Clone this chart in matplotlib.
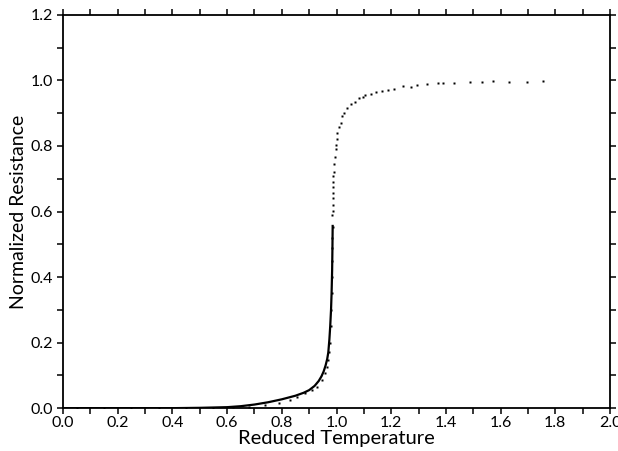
import matplotlib
matplotlib.use("Agg")
import matplotlib.pyplot as plt
from matplotlib.ticker import MultipleLocator, FormatStrFormatter

plt.rcParams['font.family'] = ['Lato', 'DejaVu Sans']

# measured data (dots)
t_meas = [0.05, 0.15, 0.25, 0.35, 0.45, 0.55, 0.62, 0.68, 0.74, 0.79,
          0.830, 0.854, 0.885, 0.909, 0.928, 0.946, 0.958, 0.966, 0.970,
          0.973, 0.976, 0.979, 0.981, 0.982, 0.983, 0.984, 0.985,
          0.985, 0.986, 0.985, 0.986, 0.987, 0.987, 0.988, 0.988, 0.989,
          0.989, 0.991, 0.992, 0.993, 0.997, 0.997, 1.001, 1.003, 1.010,
          1.015, 1.019, 1.027, 1.038, 1.052, 1.068, 1.083, 1.098, 1.104,
          1.125, 1.144, 1.165, 1.187, 1.210, 1.244, 1.272, 1.293, 1.330,
          1.372, 1.388, 1.430, 1.488, 1.531, 1.573, 1.631, 1.695, 1.754]
r_meas = [0.0, 0.0, 0.0, 0.0, 0.0, 0.001, 0.002, 0.005, 0.010, 0.017,
          0.026, 0.033, 0.045, 0.055, 0.065, 0.085, 0.106, 0.126, 0.147,
          0.17, 0.20, 0.25, 0.30, 0.35, 0.40, 0.45, 0.49,
          0.518, 0.554, 0.589, 0.602, 0.620, 0.640, 0.656, 0.674, 0.689,
          0.707, 0.722, 0.745, 0.766, 0.790, 0.802, 0.821, 0.841, 0.857,
          0.871, 0.890, 0.902, 0.917, 0.927, 0.935, 0.946, 0.950, 0.957,
          0.959, 0.964, 0.969, 0.972, 0.975, 0.983, 0.981, 0.985, 0.988,
          0.991, 0.993, 0.993, 0.994, 0.994, 0.997, 0.996, 0.996, 0.999]

# model curve (solid)
t_model = [0.0, 0.2, 0.4, 0.5, 0.55, 0.6, 0.65, 0.7, 0.75, 0.8, 0.85,
           0.88, 0.9, 0.92, 0.935, 0.945, 0.953, 0.960, 0.966, 0.970,
           0.974, 0.977, 0.980, 0.982, 0.984, 0.985, 0.986]
r_model = [0.0, 0.0, 0.0, 0.001, 0.002, 0.003, 0.006, 0.011, 0.018, 0.027, 0.038,
           0.047, 0.055, 0.068, 0.083, 0.097, 0.112, 0.130, 0.150, 0.170,
           0.210, 0.250, 0.300, 0.350, 0.420, 0.480, 0.556]

fig = plt.figure(figsize=(6.18, 4.51), dpi=100)
ax = fig.add_axes([0.102, 0.095, 0.885, 0.872])

ax.plot(t_model, r_model, color='black', lw=1.6)
ax.plot(t_meas, r_meas, ls='none', marker='s', ms=1.5, color='black', mec='none')

ax.set_xlim(0, 2.0)
ax.set_ylim(0, 1.2)
ax.xaxis.set_major_locator(MultipleLocator(0.2))
ax.xaxis.set_minor_locator(MultipleLocator(0.1))
ax.yaxis.set_major_locator(MultipleLocator(0.2))
ax.yaxis.set_minor_locator(MultipleLocator(0.1))
ax.xaxis.set_major_formatter(FormatStrFormatter('%.1f'))
ax.yaxis.set_major_formatter(FormatStrFormatter('%.1f'))
ax.tick_params(which='both', direction='out', length=4.5, width=1.1,
               top=True, right=True, labelsize=11.5)
ax.tick_params(axis='x', pad=1.5)
ax.tick_params(axis='y', pad=2.5)
for s in ax.spines.values():
    s.set_linewidth(1.3)

ax.set_xlabel('Reduced Temperature', fontsize=14.5, labelpad=0)
ax.set_ylabel('Normalized Resistance', fontsize=14, labelpad=3)

fig.savefig('out.png', dpi=100)
